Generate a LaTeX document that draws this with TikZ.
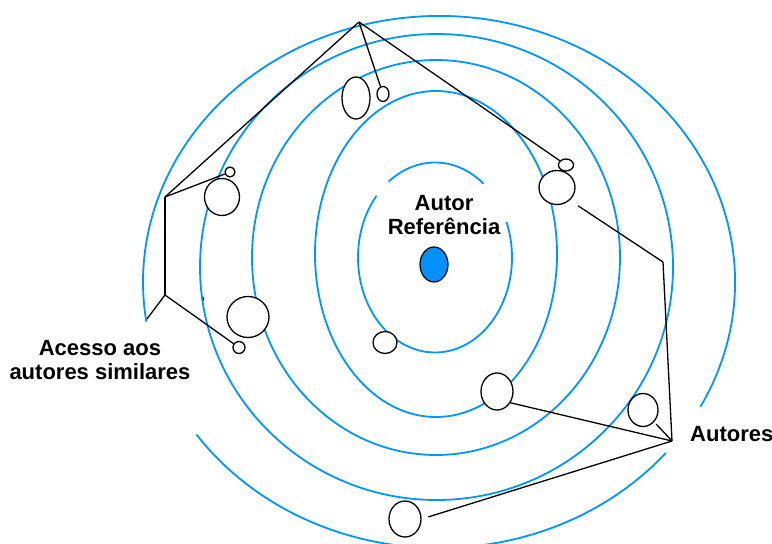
\documentclass[tikz,border=0pt]{standalone}
\usepackage{fontspec}
\setmainfont{Liberation Sans}
\usetikzlibrary{shapes.geometric}
\definecolor{ringblue}{RGB}{0,150,255}
\definecolor{dotblue}{RGB}{0,145,250}

\begin{document}
\begin{tikzpicture}[x=1pt,y=1pt,
  ring/.style={draw=ringblue,line width=1.8pt},
  link/.style={draw=black,line width=1.3pt},
  author/.style={ellipse,draw=black,fill=white,line width=1.3pt,inner sep=0pt},
  txt/.style={font=\fontsize{22}{24}\selectfont\bfseries,inner sep=0pt,align=center},
]
\useasboundingbox (0,0) rectangle (772,544);

% concentric similarity rings around the reference author
\draw[ring] (435,286.5) ++(51:77pt and 95pt)
  arc[start angle=51,end angle=127,x radius=77pt,y radius=95pt];
\draw[ring] (435,286.5) ++(139.5:77pt and 95pt)
  arc[start angle=139.5,end angle=382,x radius=77pt,y radius=95pt];
\draw[ring] (436,290) ellipse[x radius=121pt,y radius=163pt];
\draw[ring] (436,286.5) ellipse[x radius=184pt,y radius=197.5pt];
\draw[ring] (436.5,277) ellipse[x radius=236.5pt,y radius=233pt];
\draw[ring] (439,262) ++(-28:296pt and 266pt)
  arc[start angle=-28,end angle=188.6,x radius=296pt,y radius=266pt];
\draw[ring] (439,262) ++(215:296pt and 266pt)
  arc[start angle=215,end angle=320,x radius=296pt,y radius=266pt];

% reference author
\node[ellipse,draw=black,fill=dotblue,line width=1.2pt,inner sep=0pt,
      minimum width=28pt,minimum height=35pt] (ref) at (434,279.5) {};

% other authors
\node[author,minimum width=28pt,minimum height=42pt] (c1) at (356,446) {};
\node[author,minimum width=12pt,minimum height=15pt] (c2) at (383,450) {};
\node[author,minimum width=15pt,minimum height=12pt] (c3) at (566,379) {};
\node[author,minimum width=36pt,minimum height=34pt] (c4) at (557,356.5) {};
\node[author,minimum width=10pt,minimum height=10pt] (c5) at (230,372) {};
\node[author,minimum width=35pt,minimum height=37pt] (c6) at (222,347) {};
\node[author,minimum width=42pt,minimum height=41pt] (c7) at (248,227) {};
\node[author,minimum width=12pt,minimum height=12pt] (c8) at (239,196.5) {};
\node[author,minimum width=24pt,minimum height=22pt] (c9) at (385,201.5) {};
\node[author,minimum width=32pt,minimum height=37pt] (c10) at (497,152.5) {};
\node[author,minimum width=30pt,minimum height=33pt] (c11) at (643,134) {};
\node[author,minimum width=32pt,minimum height=36pt] (c12) at (405,25) {};

% junction points of the connectors
\coordinate (P) at (359,522);
\coordinate (L1) at (165,347);
\coordinate (L2) at (165,249);
\coordinate (E5) at (147,225);
\coordinate (C) at (663,282);
\coordinate (R) at (672,103);

% access to similar authors
\draw[link] (P) -- (L1);
\draw[link] (P) -- (c2);
\draw[link] (P) -- (c3);
\draw[link] (L1) -- (c5);
\draw[link] (L1) -- (L2);
\draw[link] (L2) -- (E5);
\draw[link] (L2) -- (c8);
\draw[link,line width=1pt] (203,247) -- (203,243);

% authors
\draw[link,shorten <=10pt] (c4.-45) -- (C);
\draw[link] (C) -- (R);
\draw[link] (c10.-40) -- (R);
\draw[link,shorten <=3pt] (c11) -- (R);
\draw[link,shorten <=7pt] (c12.east) -- (R);

% labels
\node[txt] (reftext) at (444,328.5) {Autor\\Referência};
\node[txt] (simtext) at (100,184.4) {Acesso aos\\autores similares};
\node[txt,anchor=base west] (authtext) at (690,102) {Autores};
\end{tikzpicture}
\end{document}
